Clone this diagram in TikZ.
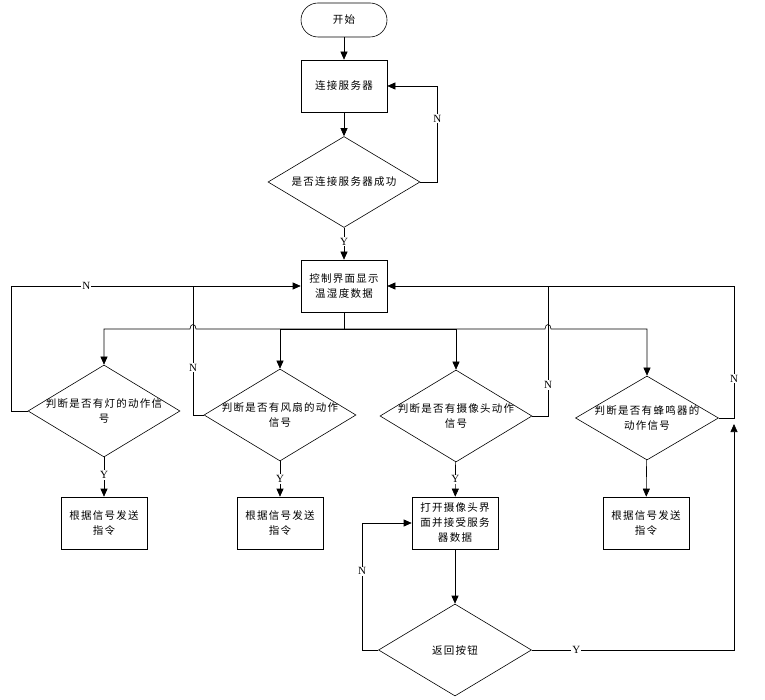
\documentclass[tikz,border=0pt]{standalone}
\usepackage{fontspec}
\setmainfont{Liberation Serif}
\newfontfamily\cjk[LetterSpace=12]{Noto Sans CJK SC}
\usetikzlibrary{shapes.geometric, arrows.meta, positioning, calc}

\begin{document}
\begin{tikzpicture}[
    x=1pt, y=-1pt,
    line width=0.6pt,
    startstop/.style={rectangle, rounded corners=17pt, draw, minimum width=86pt, minimum height=34pt, align=center, font=\cjk\fontsize{10.5}{15}\selectfont},
    process/.style={rectangle, draw, minimum width=86pt, minimum height=52pt, align=center, font=\cjk\fontsize{10.5}{15}\selectfont},
    decision/.style={diamond, draw, minimum width=152pt, minimum height=92pt, inner sep=0pt},
    dtext/.style={align=center, font=\cjk\fontsize{10.5}{15}\selectfont},
    yn/.style={fill=white, inner sep=1pt, font=\fontsize{11}{12}\selectfont},
    arrow/.style={-{Triangle[length=8pt, width=7pt]}}
]
\useasboundingbox (0,0) rectangle (765,700);

\node[startstop] (start) at (344,20) {开始};
\node[process] (conn) at (344,86) {连接服务器};
\node[decision, minimum height=91pt, label={[dtext]center:是否连接服务器成功}] (ask) at (344,182) {};
\node[process] (ctrl) at (344,286) {控制界面显示\\温湿度数据};

\node[decision, label={[dtext]center:判断是否有灯的动作信\\号}] (d1) at (104,411) {};
\node[decision, label={[dtext]center:判断是否有风扇的动作\\信号}] (d2) at (280,415) {};
\node[decision, label={[dtext]center:判断是否有摄像头动作\\信号}] (d3) at (456,416) {};
\node[decision, minimum width=143pt, minimum height=84pt, label={[dtext]center:判断是否有蜂鸣器的\\动作信号}] (d4) at (647,418) {};

\node[process] (a1) at (104,523) {根据信号发送\\指令};
\node[process] (a2) at (280,523) {根据信号发送\\指令};
\node[process] (cam) at (455,523) {打开摄像头界\\面并接受服务\\器数据};
\node[process] (a4) at (646,523) {根据信号发送\\指令};
\node[decision, minimum width=153pt, label={[dtext]center:返回按钮}] (ret) at (455,650) {};

\coordinate (hub) at (344,329);
\coordinate (jl) at (193,287);
\coordinate (jr) at (548,287);
\coordinate (jy) at (734,424);

% top part
\draw[arrow] (start) -- (conn);
\draw[arrow] (conn) -- (ask);
\draw[arrow] (ask.east) -- ++(17,0) |- node[yn, pos=0.33] {N} (conn.east);
\draw[arrow] (ask) -- node[yn, pos=0.44] {Y} (ctrl);

% branches
\draw (ctrl) -- (hub);
\draw[arrow] (hub) -- (196,329) .. controls (196,323) and (190,323) .. (190,329) -| (d1);
\draw[arrow] (hub) -| (d2);
\draw[arrow] (hub) -| (d3);
\draw[arrow] (hub) -- (545,329) .. controls (545,323) and (551,323) .. (551,329) -| (d4);

\draw[arrow] (d1) -- node[yn, pos=0.45] {Y} (a1);
\draw[arrow] (d2) -- node[yn, pos=0.5] {Y} (a2);
\draw[arrow] (d3) -- node[yn, pos=0.5] {Y} (cam);
\draw[arrow] (d4) -- (a4);

% back to the control screen
\draw[arrow] (d1.west) -- (11,411) |- node[yn, pos=0.63] {N} (ctrl.west);
\draw (d2.west) -- (193,415) -- node[yn, pos=0.37] {N} (jl);
\draw (d3.east) -- (548,416) -- node[yn, pos=0.24] {N} (jr);
\draw[arrow] (d4.east) -- (734,418) |- node[yn, pos=0.15] {N} (ctrl.east);

% camera loop
\draw[arrow] (cam) -- (ret);
\draw[arrow] (ret.west) -- (362,650) |- node[yn, pos=0.31] {N} (cam.west);
\draw[arrow] (ret.east) -| node[yn, pos=0.11] {Y} (jy);
\end{tikzpicture}
\end{document}
